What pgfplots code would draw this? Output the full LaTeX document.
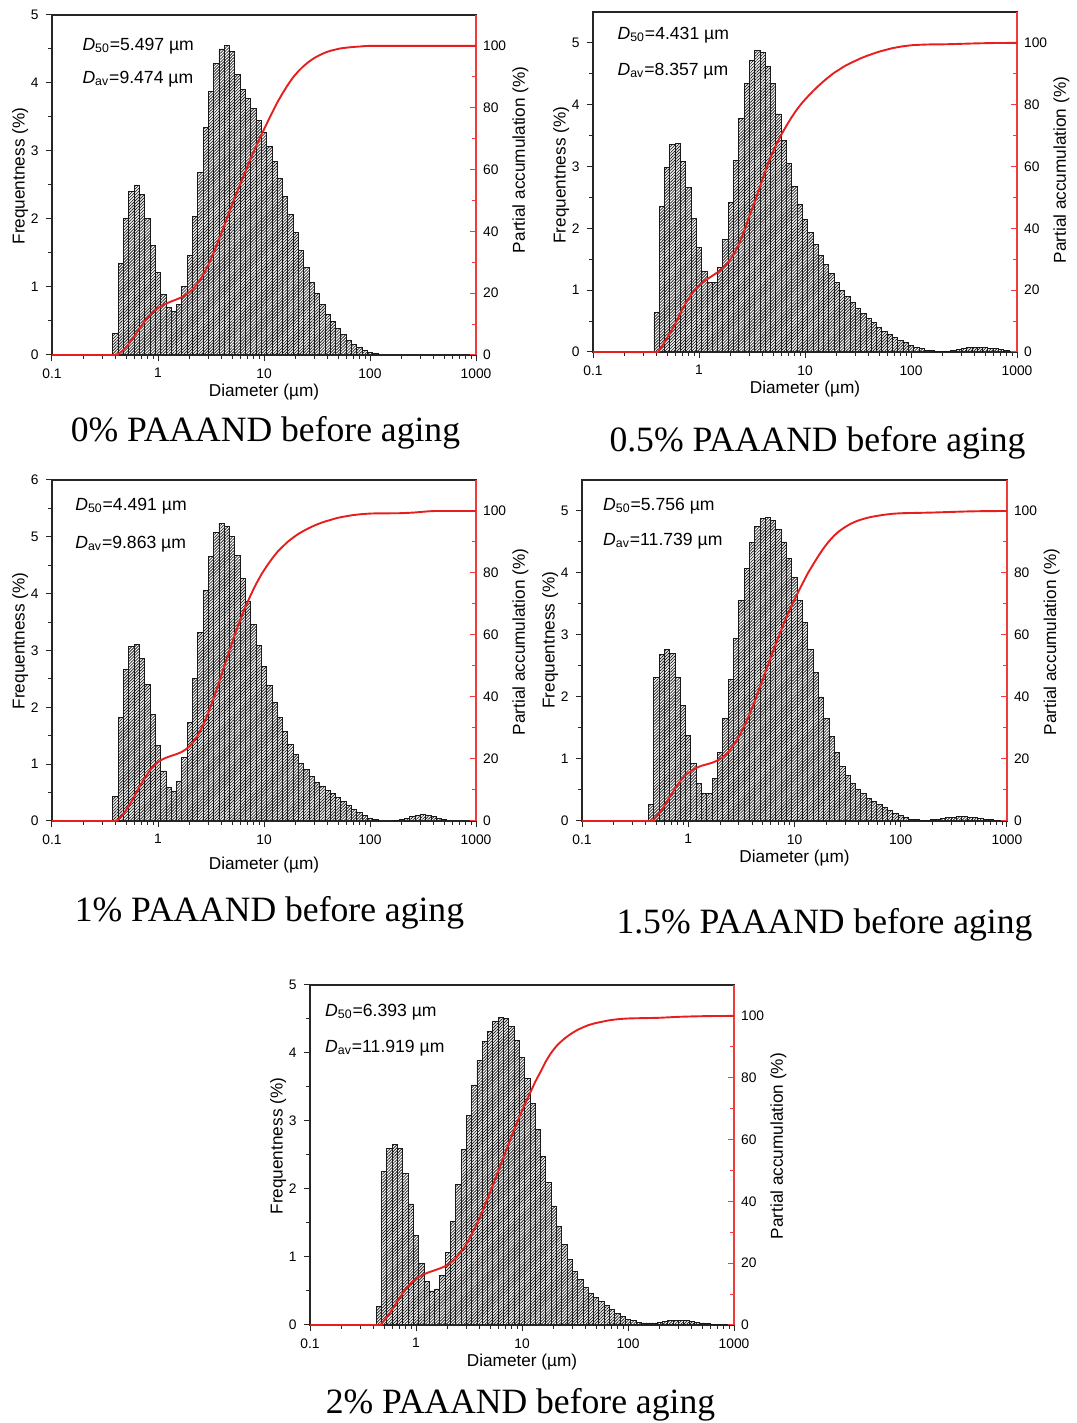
\documentclass[border=0pt]{standalone}
\usepackage{fontspec}
\setmainfont{Liberation Sans}
\newfontfamily\capfont{Liberation Serif}
\usepackage{pgfplots}
\pgfplotsset{compat=1.18}
\usepackage{pgfplotstable}
\usetikzlibrary{patterns.meta}

\definecolor{curvered}{RGB}{230,30,30}
\definecolor{axisred}{RGB}{238,60,60}

\pgfplotsset{
  every axis/.append style={scale only axis, width=212pt, height=170pt,
    xmin=0.1, xmax=1000,
    tick label style={font=\fontsize{6.9}{8}\selectfont},
    every axis label/.append style={font=\fontsize{8.6}{10}\selectfont},
    major tick length=3.2pt, minor tick length=2pt},
}
\pgfplotsset{/pgf/number format/assume math mode=true}

% 0% PAAAND
\pgfplotstableread{
d f
0.3758 0.31
0.4217 1.35
0.4732 2.01
0.5309 2.41
0.5957 2.50
0.6683 2.36
0.7499 2.01
0.8414 1.61
0.9441 1.21
1.0593 0.89
1.1885 0.70
1.3335 0.64
1.4962 0.74
1.6788 1.01
1.8836 1.46
2.1135 2.04
2.3714 2.69
2.6607 3.34
2.9854 3.88
3.3497 4.29
3.7584 4.50
4.2170 4.55
4.7315 4.47
5.3088 4.12
5.9566 3.90
6.6834 3.77
7.4989 3.62
8.4140 3.45
9.4406 3.27
10.593 3.06
11.885 2.84
13.335 2.60
14.962 2.33
16.788 2.06
18.836 1.80
21.135 1.54
23.714 1.28
26.607 1.07
29.854 0.90
33.497 0.74
37.584 0.60
42.170 0.49
47.315 0.39
53.088 0.30
59.566 0.22
66.834 0.16
74.989 0.11
84.140 0.07
94.406 0.04
105.93 0.02
118.85 0
}\pA

% 0.5% PAAAND
\pgfplotstableread{
d f
0.3758 0.64
0.4217 2.36
0.4732 2.98
0.5309 3.36
0.5957 3.37
0.6683 3.08
0.7499 2.66
0.8414 2.16
0.9441 1.69
1.0593 1.31
1.1885 1.13
1.3335 1.12
1.4962 1.36
1.6788 1.82
1.8836 2.42
2.1135 3.10
2.3714 3.78
2.6607 4.34
2.9854 4.72
3.3497 4.88
3.7584 4.85
4.2170 4.62
4.7315 4.35
5.3088 3.85
5.9566 3.42
6.6834 3.05
7.4989 2.68
8.4140 2.39
9.4406 2.14
10.593 1.93
11.885 1.74
13.335 1.56
14.962 1.41
16.788 1.27
18.836 1.13
21.135 1.00
23.714 0.90
26.607 0.80
29.854 0.70
33.497 0.62
37.584 0.54
42.170 0.47
47.315 0.40
53.088 0.33
59.566 0.28
66.834 0.23
74.989 0.19
84.140 0.15
94.406 0.11
105.93 0.08
118.85 0.05
133.35 0.03
149.62 0.02
167.88 0.01
188.36 0.01
211.35 0.01
237.14 0.02
266.07 0.04
298.54 0.06
334.97 0.07
375.84 0.08
421.70 0.08
473.15 0.07
530.88 0.06
595.66 0.05
668.34 0.04
749.89 0.02
841.40 0.01
944.06 0
}\pB

% 1% PAAAND
\pgfplotstableread{
d f
0.3758 0.43
0.4217 1.82
0.4732 2.66
0.5309 3.07
0.5957 3.10
0.6683 2.86
0.7499 2.41
0.8414 1.88
0.9441 1.33
1.0593 0.88
1.1885 0.59
1.3335 0.52
1.4962 0.69
1.6788 1.11
1.8836 1.73
2.1135 2.50
2.3714 3.32
2.6607 4.06
2.9854 4.66
3.3497 5.07
3.7584 5.24
4.2170 5.19
4.7315 5.00
5.3088 4.67
5.9566 4.27
6.6834 3.87
7.4989 3.46
8.4140 3.08
9.4406 2.72
10.593 2.38
11.885 2.09
13.335 1.82
14.962 1.57
16.788 1.35
18.836 1.17
21.135 1.01
23.714 0.90
26.607 0.78
29.854 0.68
33.497 0.60
37.584 0.53
42.170 0.48
47.315 0.41
53.088 0.34
59.566 0.28
66.834 0.21
74.989 0.15
84.140 0.09
94.406 0.05
105.93 0.03
118.85 0
133.35 0
149.62 0
167.88 0.01
188.36 0.03
211.35 0.05
237.14 0.08
266.07 0.10
298.54 0.11
334.97 0.10
375.84 0.08
421.70 0.05
473.15 0.02
530.88 0
}\pC

% 1.5% PAAAND
\pgfplotstableread{
d f
0.4217 0.27
0.4732 2.32
0.5309 2.68
0.5957 2.76
0.6683 2.70
0.7499 2.32
0.8414 1.86
0.9441 1.38
1.0593 0.93
1.1885 0.61
1.3335 0.44
1.4962 0.45
1.6788 0.69
1.8836 1.10
2.1135 1.66
2.3714 2.29
2.6607 2.95
2.9854 3.56
3.3497 4.07
3.7584 4.49
4.2170 4.75
4.7315 4.88
5.3088 4.90
5.9566 4.85
6.6834 4.70
7.4989 4.50
8.4140 4.23
9.4406 3.92
10.593 3.56
11.885 3.20
13.335 2.76
14.962 2.39
16.788 2.00
18.836 1.66
21.135 1.36
23.714 1.10
26.607 0.88
29.854 0.73
33.497 0.61
37.584 0.51
42.170 0.44
47.315 0.37
53.088 0.31
59.566 0.27
66.834 0.22
74.989 0.17
84.140 0.12
94.406 0.09
105.93 0.05
118.85 0.03
133.35 0.02
149.62 0.01
167.88 0.01
188.36 0.02
211.35 0.03
237.14 0.04
266.07 0.05
298.54 0.06
334.97 0.07
375.84 0.07
421.70 0.06
473.15 0.05
530.88 0.04
595.66 0.03
668.34 0.02
749.89 0.01
841.40 0
}\pD

% 2% PAAAND
\pgfplotstableread{
d f
0.4217 0.27
0.4732 2.26
0.5309 2.59
0.5957 2.66
0.6683 2.59
0.7499 2.23
0.8414 1.78
0.9441 1.32
1.0593 0.91
1.1885 0.64
1.3335 0.50
1.4962 0.53
1.6788 0.73
1.8836 1.06
2.1135 1.52
2.3714 2.06
2.6607 2.58
2.9854 3.08
3.3497 3.53
3.7584 3.89
4.2170 4.17
4.7315 4.32
5.3088 4.46
5.9566 4.52
6.6834 4.51
7.4989 4.39
8.4140 4.19
9.4406 3.94
10.593 3.63
11.885 3.26
13.335 2.88
14.962 2.48
16.788 2.10
18.836 1.75
21.135 1.45
23.714 1.18
26.607 0.96
29.854 0.79
33.497 0.67
37.584 0.55
42.170 0.47
47.315 0.40
53.088 0.34
59.566 0.29
66.834 0.23
74.989 0.17
84.140 0.12
94.406 0.08
105.93 0.06
118.85 0.04
133.35 0.03
149.62 0.03
167.88 0.03
188.36 0.04
211.35 0.05
237.14 0.06
266.07 0.07
298.54 0.07
334.97 0.06
375.84 0.05
421.70 0.04
473.15 0.03
530.88 0.02
595.66 0.01
668.34 0.01
749.89 0.01
841.40 0
}\pE

% options shared by the bar axes and by the cumulative axes
\def\baropts{xmode=log, xtick={0.1,1,10,100,1000}, xticklabels={0.1,1,10,100,1000},
  minor xtick={0.2,0.3,0.4,0.5,0.6,0.7,0.8,0.9,2,3,4,5,6,7,8,9,20,30,40,50,60,70,80,90,200,300,400,500,600,700,800,900},
  xtick pos=left, ytick pos=left, tick align=outside,
  axis line style={draw=black!85, line width=0.6pt},
  tick style={black!85, line width=0.5pt},
  ymin=0, minor y tick num=1,
  xlabel={Diameter (µm)}, ylabel={Frequentness (\%)},
  xlabel style={at={(axis description cs:0.5,-0.11)}, anchor=center}}
\def\cumopts{xmode=log, clip=false, axis x line=none, axis y line*=right,
  ymin=0, ymax=110, ytick={0,20,40,60,80,100}, minor ytick={10,30,50,70,90},
  tick align=inside,
  y axis line style={draw=axisred, line width=0.6pt},
  tick style={axisred, line width=0.5pt},
  ylabel={Partial accumulation (\%)}}
\def\barplot{ybar interval, draw=black!90, line width=0.45pt,
  pattern={Lines[angle=45,distance=1.05pt,line width=0.4pt]}, pattern color=black!85}
\def\curveplot{curvered, line width=0.95pt, smooth, tension=0.3}
\def\annfont{\fontsize{8.8}{10}\selectfont}

\begin{document}
\begin{tikzpicture}
\path[use as bounding box] (0,0) rectangle (538pt,711.5pt);

% ---- panel 1: 0%
\edef\tmp{\noexpand\begin{axis}[\unexpanded\expandafter{\baropts}, at={(26pt,534pt)}, anchor=south west, ymax=5, ytick={0,1,2,3,4,5},
  ylabel style={at={(axis description cs:-0.075,0.526)}, anchor=center}]}\tmp
\edef\tmp{\noexpand\addplot[\unexpanded\expandafter{\barplot}]}\tmp table[x=d,y=f]{\pA};
\node[anchor=west, inner sep=0pt, font=\annfont] at (axis description cs:0.071,0.909) {\textit{D}\textsubscript{50}=5.497 µm};
\node[anchor=west, inner sep=0pt, font=\annfont] at (axis description cs:0.071,0.812) {\textit{D}\textsubscript{av}=9.474 µm};
\end{axis}
\edef\tmp{\noexpand\begin{axis}[\unexpanded\expandafter{\cumopts}, at={(26pt,534pt)}, anchor=south west,
  ylabel style={at={(axis description cs:1.105,0.574)}, anchor=center}]}\tmp
\edef\tmp{\noexpand\addplot[\unexpanded\expandafter{\curveplot}]}\tmp coordinates {(0.1,0) (0.39,0) (0.42,0.3) (0.47,1.6) (0.53,3.6) (0.6,6.1)
 (0.67,8.6) (0.75,10.9) (0.84,12.9) (0.94,14.5) (1.06,15.7) (1.19,16.6) (1.33,17.3)
 (1.5,18) (1.68,18.7) (1.88,19.7) (2.11,21.2) (2.37,23.2) (2.66,25.9) (2.99,29.2)
 (3.35,33.1) (3.76,37.4) (4.22,41.9) (4.73,46.5) (5.31,50.9) (5.96,55.2) (6.68,59.4)
 (7.5,63.6) (8.41,67.5) (9.44,71.2) (10.6,74.8) (11.9,78.3) (13.3,81.6) (15,84.7)
 (16.8,87.4) (18.8,89.8) (21.1,91.8) (23.7,93.5) (26.6,94.9) (29.9,96.1) (33.5,97)
 (37.6,97.8) (42.2,98.4) (53,99.2) (67,99.6) (84,99.85) (106,100) (1000,100)};
\end{axis}

% ---- panel 2: 0.5%
\edef\tmp{\noexpand\begin{axis}[\unexpanded\expandafter{\baropts}, at={(296.5pt,535.5pt)}, anchor=south west, ymax=5.5, ytick={0,1,2,3,4,5},
  ylabel style={at={(axis description cs:-0.075,0.52)}, anchor=center}]}\tmp
\edef\tmp{\noexpand\addplot[\unexpanded\expandafter{\barplot}]}\tmp table[x=d,y=f]{\pB};
\node[anchor=west, inner sep=0pt, font=\annfont] at (axis description cs:0.057,0.932) {\textit{D}\textsubscript{50}=4.431 µm};
\node[anchor=west, inner sep=0pt, font=\annfont] at (axis description cs:0.057,0.826) {\textit{D}\textsubscript{av}=8.357 µm};
\end{axis}
\edef\tmp{\noexpand\begin{axis}[\unexpanded\expandafter{\cumopts}, at={(296.5pt,535.5pt)}, anchor=south west,
  ylabel style={at={(axis description cs:1.105,0.535)}, anchor=center}]}\tmp
\edef\tmp{\noexpand\addplot[\unexpanded\expandafter{\curveplot}]}\tmp coordinates {(0.1,0) (0.39,0) (0.42,0.6) (0.47,3) (0.53,6) (0.6,9.3)
 (0.67,12.7) (0.75,15.8) (0.84,18.4) (0.94,20.6) (1.06,22.2) (1.19,23.5) (1.33,24.6)
 (1.5,25.8) (1.68,27.2) (1.88,29) (2.11,31.4) (2.37,34.8) (2.66,39) (2.99,44)
 (3.35,48.5) (3.76,53.5) (4.22,58.5) (4.73,63) (5.31,66.8) (5.96,70.2) (6.68,73.2)
 (7.5,76) (8.41,78.5) (9.44,80.7) (10.6,82.6) (11.9,84.4) (13.3,86) (15,87.6)
 (16.8,89) (18.8,90.3) (21.1,91.4) (23.7,92.5) (26.6,93.4) (29.9,94.2) (33.5,95)
 (37.6,95.7) (42.2,96.3) (47.3,96.9) (53,97.4) (67,98.3) (84,98.9) (106,99.3)
 (150,99.5) (210,99.55) (300,99.7) (420,99.85) (600,99.95) (1000,100)};
\end{axis}

% ---- panel 3: 1%
\edef\tmp{\noexpand\begin{axis}[\unexpanded\expandafter{\baropts}, at={(26pt,301pt)}, anchor=south west, height=170.5pt, ymax=6, ytick={0,1,2,3,4,5,6},
  ylabel style={at={(axis description cs:-0.075,0.528)}, anchor=center},
  xlabel style={at={(axis description cs:0.5,-0.129)}, anchor=center}]}\tmp
\edef\tmp{\noexpand\addplot[\unexpanded\expandafter{\barplot}]}\tmp table[x=d,y=f]{\pC};
\node[anchor=west, inner sep=0pt, font=\annfont] at (axis description cs:0.054,0.924) {\textit{D}\textsubscript{50}=4.491 µm};
\node[anchor=west, inner sep=0pt, font=\annfont] at (axis description cs:0.054,0.812) {\textit{D}\textsubscript{av}=9.863 µm};
\end{axis}
\edef\tmp{\noexpand\begin{axis}[\unexpanded\expandafter{\cumopts}, at={(26pt,301pt)}, anchor=south west, height=170.5pt,
  ylabel style={at={(axis description cs:1.105,0.525)}, anchor=center}]}\tmp
\edef\tmp{\noexpand\addplot[\unexpanded\expandafter{\curveplot}]}\tmp coordinates {(0.1,0) (0.38,0) (0.42,0.4) (0.47,2.2) (0.53,4.9) (0.6,8)
 (0.67,11.1) (0.75,13.9) (0.84,16.3) (0.94,18.2) (1.06,19.6) (1.19,20.4) (1.33,21)
 (1.5,21.6) (1.68,22.3) (1.88,23.4) (2.11,25.1) (2.37,27.6) (2.66,30.9) (2.99,35)
 (3.35,39.6) (3.76,44.7) (4.22,49.9) (4.73,55.1) (5.31,60.1) (5.96,64.8) (6.68,69.1)
 (7.5,72.9) (8.41,76.4) (9.44,79.5) (10.6,82.2) (11.9,84.6) (13.3,86.7) (15,88.5)
 (16.8,90.1) (18.8,91.4) (21.1,92.6) (23.7,93.6) (26.6,94.5) (29.9,95.3) (33.5,96)
 (37.6,96.6) (42.2,97.1) (47.3,97.6) (53,98) (67,98.6) (84,99) (106,99.2) (150,99.25)
 (200,99.3) (260,99.5) (330,99.8) (420,100) (1000,100)};
\end{axis}

% ---- panel 4: 1.5%
\edef\tmp{\noexpand\begin{axis}[\unexpanded\expandafter{\baropts}, at={(291pt,301pt)}, anchor=south west, width=212.5pt, height=170.5pt,
  ymax=5.5, ytick={0,1,2,3,4,5},
  ylabel style={at={(axis description cs:-0.075,0.53)}, anchor=center}]}\tmp
\edef\tmp{\noexpand\addplot[\unexpanded\expandafter{\barplot}]}\tmp table[x=d,y=f]{\pD};
\node[anchor=west, inner sep=0pt, font=\annfont] at (axis description cs:0.049,0.924) {\textit{D}\textsubscript{50}=5.756 µm};
\node[anchor=west, inner sep=0pt, font=\annfont] at (axis description cs:0.049,0.821) {\textit{D}\textsubscript{av}=11.739 µm};
\end{axis}
\edef\tmp{\noexpand\begin{axis}[\unexpanded\expandafter{\cumopts}, at={(291pt,301pt)}, anchor=south west, width=212.5pt, height=170.5pt,
  ylabel style={at={(axis description cs:1.105,0.525)}, anchor=center}]}\tmp
\edef\tmp{\noexpand\addplot[\unexpanded\expandafter{\curveplot}]}\tmp coordinates {(0.1,0) (0.45,0) (0.47,0.3) (0.53,2.4) (0.6,5) (0.67,7.8)
 (0.75,10.4) (0.84,12.8) (0.94,14.7) (1.06,16.1) (1.19,17.1) (1.33,17.8) (1.5,18.3)
 (1.68,18.8) (1.88,19.5) (2.11,20.6) (2.37,22.2) (2.66,24.4) (2.99,27.2) (3.35,30.5)
 (3.76,34.3) (4.22,38.6) (4.73,43.2) (5.31,47.9) (5.96,52.6) (6.68,57.2) (7.5,61.6)
 (8.41,65.8) (9.44,69.6) (10.6,73.2) (11.9,76.6) (13.3,79.8) (15,82.8) (16.8,85.5)
 (18.8,88) (21.1,90.2) (23.7,92.1) (26.6,93.6) (29.9,94.8) (33.5,95.8) (37.6,96.6)
 (42.2,97.2) (47.3,97.7) (53,98.1) (67,98.7) (84,99.1) (106,99.3) (150,99.4) (200,99.5)
 (300,99.7) (420,99.85) (600,99.95) (1000,100)};
\end{axis}

% ---- panel 5: 2%
\edef\tmp{\noexpand\begin{axis}[\unexpanded\expandafter{\baropts}, at={(155pt,49pt)}, anchor=south west, ymax=5, ytick={0,1,2,3,4,5},
  ylabel style={at={(axis description cs:-0.075,0.526)}, anchor=center}]}\tmp
\edef\tmp{\noexpand\addplot[\unexpanded\expandafter{\barplot}]}\tmp table[x=d,y=f]{\pE};
\node[anchor=west, inner sep=0pt, font=\annfont] at (axis description cs:0.035,0.921) {\textit{D}\textsubscript{50}=6.393 µm};
\node[anchor=west, inner sep=0pt, font=\annfont] at (axis description cs:0.035,0.815) {\textit{D}\textsubscript{av}=11.919 µm};
\end{axis}
\edef\tmp{\noexpand\begin{axis}[\unexpanded\expandafter{\cumopts}, at={(155pt,49pt)}, anchor=south west,
  ylabel style={at={(axis description cs:1.105,0.526)}, anchor=center}]}\tmp
\edef\tmp{\noexpand\addplot[\unexpanded\expandafter{\curveplot}]}\tmp coordinates {(0.1,0) (0.45,0) (0.47,0.3) (0.53,2.5) (0.6,5.1) (0.67,7.8)
 (0.75,10.3) (0.84,12.5) (0.94,14.2) (1.06,15.5) (1.19,16.4) (1.33,17.1) (1.5,17.7)
 (1.68,18.3) (1.88,19) (2.11,20.1) (2.37,21.6) (2.66,23.7) (2.99,26.2) (3.35,29.3)
 (3.76,32.8) (4.22,36.7) (4.73,40.9) (5.31,45.2) (5.96,49.7) (6.68,54.2) (7.5,58.7)
 (8.41,63.1) (9.44,67.3) (10.6,71.3) (11.9,75) (13.3,78.6) (15,82) (16.8,85.3)
 (18.8,88) (21.1,90.2) (23.7,91.9) (26.6,93.3) (29.9,94.5) (33.5,95.5) (37.6,96.3)
 (42.2,97) (47.3,97.5) (53,97.9) (67,98.6) (84,99) (106,99.2) (150,99.3) (200,99.4)
 (300,99.7) (420,99.85) (600,99.95) (1000,100)};
\end{axis}

% ---- captions
\begin{scope}[every node/.style={font=\capfont\fontsize{17.8}{20}\selectfont, inner sep=0pt}]
\node at (132.75pt,495pt) {0\% PAAAND before aging};
\node at (408.75pt,490pt) {0.5\% PAAAND before aging};
\node at (134.75pt,255pt) {1\% PAAAND before aging};
\node at (412.25pt,249pt) {1.5\% PAAAND before aging};
\node at (260.25pt,9pt) {2\% PAAAND before aging};
\end{scope}
\end{tikzpicture}
\end{document}
